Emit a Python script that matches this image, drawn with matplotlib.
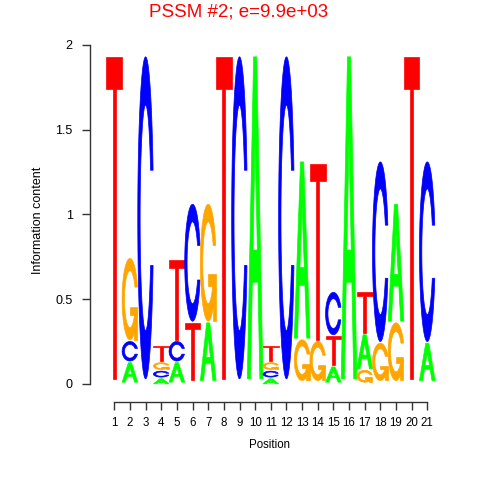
import matplotlib
matplotlib.use('Agg')
import numpy as np
import matplotlib.pyplot as plt
from matplotlib.patches import Polygon, PathPatch
from matplotlib.path import Path

# letter heights (bits) per position; stacked smallest first with 0.01 gaps
positions = list(range(1, 22))
height_A = [0, 0.115, 0, 0.03, 0.115, 0, 0.34, 0, 0, 1.90, 0.03, 0, 1.04, 0, 0.09, 1.90, 0.20, 0, 0.69, 0, 0.22]
height_C = [0, 0.115, 1.90, 0.035, 0.115, 0.69, 0, 0, 1.90, 0, 0.035, 1.90, 0, 0, 0.25, 0, 0, 1.06, 0, 0, 1.06]
height_G = [0, 0.48, 0, 0.04, 0, 0, 0.69, 0, 0, 0, 0.04, 0, 0.24, 0.23, 0, 0, 0.07, 0.22, 0.34, 0, 0]
height_T = [1.90, 0, 0, 0.09, 0.47, 0.34, 0, 1.90, 0, 0, 0.09, 0, 0, 1.04, 0.17, 0, 0.24, 0, 0, 1.90, 0]

bases = ['A', 'C', 'G', 'T']
colors = {'A': '#00FF00', 'C': '#0000FF', 'G': '#FFA500', 'T': '#FF0000'}
heights = {'A': height_A, 'C': height_C, 'G': height_G, 'T': height_T}

plt.rcParams['font.family'] = ['Liberation Sans', 'DejaVu Sans']


def ring_shape():
    # C outline in a unit box, built like seqLogo does
    a1 = np.linspace(0.3 + np.pi / 2, np.pi, 100)
    a2 = np.linspace(np.pi, 1.5 * np.pi, 100)
    xl = np.r_[0.5 + 0.5 * np.sin(a1), 0.5 + 0.5 * np.sin(a2)]
    yl = np.r_[0.5 + 0.5 * np.cos(a1), 0.5 + 0.5 * np.cos(a2)]
    xo = np.r_[xl, xl[::-1]]
    yo = np.r_[yl, 1 - yl[::-1]]
    ymax = (0.5 + 0.5 * np.cos(a1)).max()
    xi1 = 0.5 + 0.35 * np.sin(a1)
    yi1 = 0.5 + 0.35 * np.cos(a1)
    keep = yi1 <= ymax
    xi1 = xi1[keep]
    yi1 = yi1[keep]
    yi1[0] = ymax
    xi = np.r_[xi1, 0.5 + 0.35 * np.sin(a2)]
    yi = np.r_[yi1, 0.5 + 0.35 * np.cos(a2)]
    x1 = np.r_[xi, xi[::-1]]
    y1 = np.r_[yi, 1 - yi[::-1]]
    x = np.r_[xo, x1[::-1]]
    y = np.r_[yo, y1[::-1]]
    return x, y, (0.5 + 0.5 * np.sin(a1)).max()


def draw_letter(ax, ch, x0, y0, w, h, color):
    kw = dict(facecolor=color, edgecolor=color, lw=0.5)
    if ch == 'A':
        ox = np.array([0, 4, 6, 10, 8, 6.8, 3.2, 2, 0]) / 10
        oy = np.array([0, 10, 10, 0, 0, 3, 3, 0, 0]) / 10
        hx = np.array([3.6, 6.4, 5, 3.6]) / 10
        hy = np.array([4, 4, 7.5, 4]) / 10
        verts = np.r_[np.c_[x0 + w * ox, y0 + h * oy], np.c_[x0 + w * hx, y0 + h * hy]]
        codes = [Path.MOVETO] + [Path.LINETO] * 7 + [Path.CLOSEPOLY] + \
                [Path.MOVETO] + [Path.LINETO] * 2 + [Path.CLOSEPOLY]
        ax.add_patch(PathPatch(Path(verts, codes), **kw))
    elif ch == 'T':
        tx = np.array([0, 10, 10, 6, 6, 4, 4, 0]) / 10
        ty = np.array([10, 10, 9, 9, 0, 0, 9, 9]) / 10
        ax.add_patch(Polygon(np.c_[x0 + w * tx, y0 + h * ty], closed=True, **kw))
    else:
        cx, cy, r1 = ring_shape()
        ax.add_patch(Polygon(np.c_[x0 + w * cx, y0 + h * cy], closed=True, **kw))
        if ch == 'G':
            h1 = 0.4
            gx = np.array([r1, 0.5, 0.5, r1 - 0.2, r1 - 0.2, r1, r1])
            gy = np.array([h1, h1, h1 - 0.1, h1 - 0.1, 0, 0, h1])
            ax.add_patch(Polygon(np.c_[x0 + w * gx, y0 + h * gy], closed=True, **kw))


fig = plt.figure(figsize=(4.8, 4.8), dpi=100)
ax = fig.add_axes([90 / 480, (480 - 401.5) / 480, 360 / 480, (401.5 - 40) / 480])

for i, pos in enumerate(positions):
    col = sorted([(heights[b][i], k, b) for k, b in enumerate(bases)])
    y = 0
    for h, k, b in col:
        if h > 0:
            draw_letter(ax, b, pos - 0.5, y, 1.0, h, colors[b])
        y += h + 0.01

ax.set_xlim(-0.553, 22.45)
ax.set_ylim(-0.104, 2.0295)
for s in ['top', 'right']:
    ax.spines[s].set_visible(False)
ax.spines['left'].set_bounds(0, 2)
ax.spines['bottom'].set_bounds(1, 21)
for s in ['left', 'bottom']:
    ax.spines[s].set_color('#333333')
    ax.spines[s].set_linewidth(1.0)

ax.set_yticks([0, 0.5, 1, 1.5, 2])
ax.set_yticklabels(['0', '0.5', '1', '1.5', '2'], fontsize=9)
ax.set_xticks(positions)
ax.set_xticklabels([str(p) for p in positions], fontsize=8.3)
ax.tick_params(axis='both', length=5.5, width=1.0, color='#333333')
ax.tick_params(axis='y', pad=7)
ax.tick_params(axis='x', pad=6)

ax.set_ylabel('Information content', fontsize=9, labelpad=8)
ax.set_xlabel('Position', fontsize=8.3, labelpad=7)
fig.text(0.497, 0.993, 'PSSM #2; e=9.9e+03', color='#FF0000', fontsize=13.5,
         ha='center', va='top')

fig.savefig('out.png', dpi=100)
